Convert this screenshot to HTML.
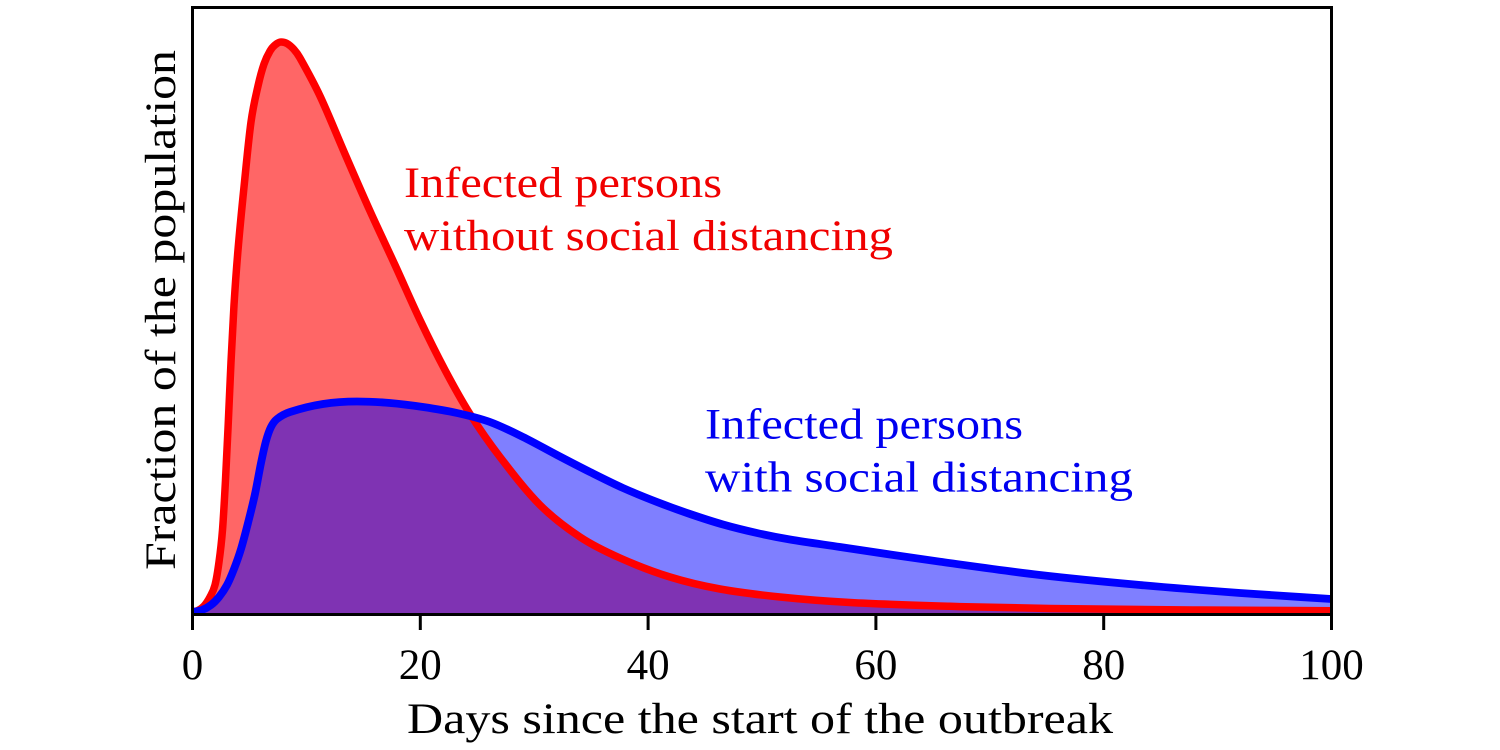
<!DOCTYPE html>
<html>
<head>
<meta charset="utf-8">
<style>
  html, body { margin: 0; padding: 0; background: #ffffff; }
  body { width: 1500px; height: 750px; overflow: hidden; }
  svg { display: block; }
  text { font-family: "Liberation Serif", "DejaVu Serif", serif; }
</style>
</head>
<body>
<svg id="chart" width="1500" height="750" viewBox="0 0 1500 750" xmlns="http://www.w3.org/2000/svg">
  <defs>
    <clipPath id="axclip">
      <rect x="192.5" y="7.5" width="1139" height="607"/>
    </clipPath>
  </defs>
  <rect x="0" y="0" width="1500" height="750" fill="#ffffff"/>

  <g clip-path="url(#axclip)">
    <path id="redFill" fill="#ff6666" stroke="none" d=""/>
    <path id="blueFill" fill="#0000ff" fill-opacity="0.5" stroke="none" d=""/>
    <path id="redLine" fill="none" stroke="#ff0000" stroke-width="7.5" stroke-linejoin="round" stroke-linecap="round" d=""/>
    <path id="blueLine" fill="none" stroke="#0000ff" stroke-width="7.8" stroke-linejoin="round" stroke-linecap="round" d=""/>
  </g>

  <!-- axes frame -->
  <rect x="192.5" y="7.5" width="1139" height="607" fill="none" stroke="#000" stroke-width="3"/>

  <!-- x ticks -->
  <g stroke="#000" stroke-width="3">
    <line x1="192.5" y1="614.5" x2="192.5" y2="630"/>
    <line x1="420.3" y1="614.5" x2="420.3" y2="630"/>
    <line x1="648.1" y1="614.5" x2="648.1" y2="630"/>
    <line x1="875.9" y1="614.5" x2="875.9" y2="630"/>
    <line x1="1103.7" y1="614.5" x2="1103.7" y2="630"/>
    <line x1="1331.5" y1="614.5" x2="1331.5" y2="630"/>
  </g>

  <!-- tick labels -->
  <g font-size="43" fill="#000" text-anchor="middle">
    <text x="192.5" y="679">0</text>
    <text x="420.3" y="679">20</text>
    <text x="648.1" y="679">40</text>
    <text x="875.9" y="679">60</text>
    <text x="1103.7" y="679">80</text>
    <text x="1331.5" y="679">100</text>
  </g>

  <!-- axis labels -->
  <text x="407" y="733" font-size="43" fill="#000" textLength="706" lengthAdjust="spacingAndGlyphs">Days since the start of the outbreak</text>
  <text transform="translate(175,570) rotate(-90)" x="0" y="0" font-size="43" fill="#000" textLength="520" lengthAdjust="spacingAndGlyphs">Fraction of the population</text>

  <!-- annotations -->
  <g font-size="43" fill="#f00000">
    <text x="404" y="197" textLength="318" lengthAdjust="spacingAndGlyphs">Infected persons</text>
    <text x="404" y="250" textLength="489" lengthAdjust="spacingAndGlyphs">without social distancing</text>
  </g>
  <g font-size="43" fill="#0000f0">
    <text x="705" y="438.5" textLength="318" lengthAdjust="spacingAndGlyphs">Infected persons</text>
    <text x="705" y="491.5" textLength="428" lengthAdjust="spacingAndGlyphs">with social distancing</text>
  </g>
</svg>

<script>
(function(){
  var red = [[192.5,612],[198,610.5],[204,606],[210,597],[215,585],[219,562],[222.5,530],[225.5,480],[228.4,420],[231,362],[234,305],[238,250],[244,187],[251,122],[258,86],[264,64],[270,51],[275,45],[281,42],[287,43.5],[294,49.5],[300,58],[320,96],[345,154],[370,211],[395,265],[420,320],[445,370],[470,414],[500,457],[540,505],[580,537],[620,558],[670,577],[720,589],[780,597],[850,602.5],[950,606.3],[1050,608.5],[1200,610],[1331.5,610.7]];
  var blue = [[192.5,612],[202,610],[211,605],[219,597],[227,585],[234,569],[241,549],[248,523],[255,494],[261,463],[266,441],[271,427],[277,419],[290,412],[323,404],[357,401.5],[390,403],[423,407],[457,413],[490,422],[523,437],[557,455],[590,472],[623,488],[657,502],[690,514],[723,524.5],[757,533],[790,539.5],[840,547],[890,554.5],[940,561.7],[1040,575],[1140,585],[1240,593],[1331.5,599]];
  function poly(p){
    var d = "M" + p[0][0] + "," + p[0][1];
    for (var i=1;i<p.length;i++) d += " L" + p[i][0] + "," + p[i][1];
    return d;
  }
  // monotone cubic with central-difference tangents (Fritsch-Carlson limiting)
  function smooth(p){
    var n = p.length, dx = [], s = [], m = [];
    for (var i=0;i<n-1;i++){ dx[i]=p[i+1][0]-p[i][0]; s[i]=(p[i+1][1]-p[i][1])/dx[i]; }
    m[0]=s[0]; m[n-1]=s[n-2];
    for (var i=1;i<n-1;i++){
      if (s[i-1]*s[i] <= 0) m[i]=0;
      else m[i] = (p[i+1][1]-p[i-1][1])/(p[i+1][0]-p[i-1][0]);
    }
    for (var i=0;i<n-1;i++){
      if (s[i]===0){ m[i]=0; m[i+1]=0; continue; }
      var a = m[i]/s[i], b = m[i+1]/s[i], r = a*a+b*b;
      if (r > 9){ var t = 3/Math.sqrt(r); m[i]=t*a*s[i]; m[i+1]=t*b*s[i]; }
    }
    var d = "M" + p[0][0].toFixed(2) + "," + p[0][1].toFixed(2);
    for (var i=0;i<n-1;i++){
      var h = dx[i];
      var c1x = p[i][0] + h/3, c1y = p[i][1] + m[i]*h/3;
      var c2x = p[i+1][0] - h/3, c2y = p[i+1][1] - m[i+1]*h/3;
      d += " C" + c1x.toFixed(2) + "," + c1y.toFixed(2) + " " + c2x.toFixed(2) + "," + c2y.toFixed(2) + " " + p[i+1][0].toFixed(2) + "," + p[i+1][1].toFixed(2);
    }
    return d;
  }
  function set(id, d){ document.getElementById(id).setAttribute("d", d); }
  var close = " L1340,625 L185,625 Z";
  set("redLine", poly(red)); set("blueLine", poly(blue));
  set("redFill", poly(red) + close); set("blueFill", poly(blue) + close);
  try {
    var rs = smooth(red), bs = smooth(blue);
    set("redLine", rs); set("blueLine", bs);
    set("redFill", rs + close); set("blueFill", bs + close);
  } catch(e) {}
})();
</script>
</body>
</html>
